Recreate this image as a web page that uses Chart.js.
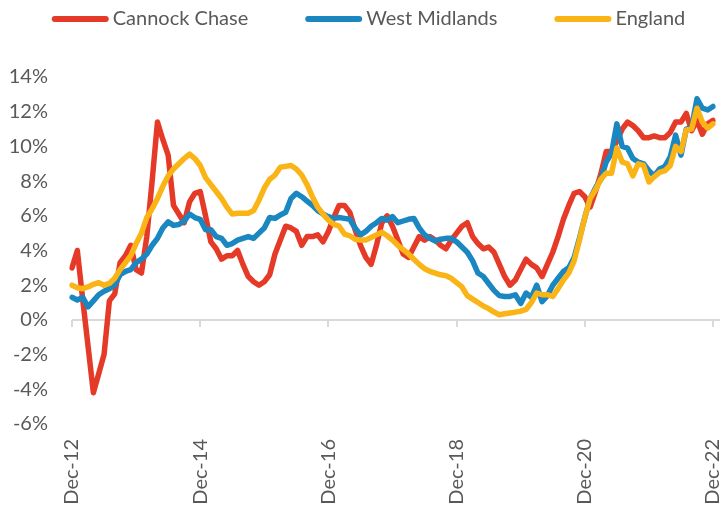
<!DOCTYPE html>
<html>
<head>
<meta charset="utf-8">
<script src="https://cdn.jsdelivr.net/npm/chart.js@4.4.1/dist/chart.umd.min.js"></script>
<style>
  html, body { margin: 0; padding: 0; background: #fff; }
  #wrap { position: relative; width: 721px; height: 508px; }
</style>
</head>
<body>
<div id="wrap"><canvas id="chart"></canvas></div>
<script>
// series, monthly annual % change, Dec-12 .. Dec-22
const seriesNames = ["Cannock Chase", "West Midlands", "England"];
const seriesColors = ["#e63a28", "#1b87c1", "#fbb416"];

const cannockChase = [3.0,4.0,1.2,-1.5,-4.2,-3.1,-2.0,1.1,1.5,3.3,
  3.7,4.3,2.9,2.7,4.8,8.0,11.4,10.4,9.5,6.6,
  6.1,5.6,6.8,7.3,7.4,6.0,4.5,4.1,3.5,3.7,
  3.7,4.0,3.2,2.5,2.2,2.0,2.2,2.6,3.8,4.6,
  5.4,5.3,5.1,4.3,4.8,4.8,4.9,4.5,5.1,5.9,
  6.6,6.6,6.2,5.2,4.3,3.6,3.2,4.3,5.6,6.0,
  5.4,4.6,3.8,3.6,4.2,4.8,4.6,4.8,4.6,4.3,
  4.1,4.6,5.0,5.4,5.6,4.8,4.4,4.1,4.2,3.9,
  3.2,2.5,2.0,2.3,2.9,3.5,3.2,3.0,2.5,3.2,
  3.9,4.8,5.8,6.6,7.3,7.4,7.1,6.5,7.4,8.4,
  9.7,9.7,10.3,11.0,11.4,11.2,10.9,10.5,10.5,10.6,
  10.5,10.5,10.8,11.4,11.4,11.9,10.9,11.5,10.7,11.3,
  11.5];

const westMidlands = [1.3,1.15,1.3,0.75,1.1,1.45,1.65,1.8,2.0,2.6,
  2.8,2.9,3.3,3.5,3.8,4.3,4.7,5.3,5.65,5.45,
  5.5,5.7,6.1,5.9,5.8,5.2,5.2,4.8,4.7,4.3,
  4.4,4.6,4.7,4.8,4.7,5.0,5.3,5.9,5.85,6.05,
  6.2,7.0,7.3,7.1,6.85,6.6,6.3,6.1,5.95,5.85,
  5.9,5.85,5.8,5.3,4.9,5.1,5.4,5.6,5.85,5.75,
  5.95,5.6,5.7,5.8,5.85,5.3,4.9,4.7,4.55,4.65,
  4.7,4.7,4.5,4.2,3.9,3.4,2.7,2.5,2.1,1.7,
  1.4,1.35,1.35,1.45,0.95,1.55,1.3,2.0,1.05,1.4,
  2.0,2.4,2.8,3.0,3.6,4.7,5.9,7.0,7.6,8.1,
  9.1,9.6,11.3,10.0,9.9,9.3,9.1,9.0,8.6,8.3,
  8.7,8.85,9.4,10.65,9.5,11.0,11.1,12.75,12.2,12.1,
  12.3];

const england = [2.0,1.85,1.8,1.9,2.05,2.15,2.0,2.1,2.4,2.9,
  3.3,3.7,4.4,5.0,5.9,6.4,7.0,7.7,8.3,8.7,
  9.0,9.3,9.55,9.3,8.9,8.2,7.8,7.4,7.0,6.5,
  6.1,6.15,6.15,6.15,6.3,6.9,7.6,8.1,8.35,8.8,
  8.85,8.9,8.7,8.35,7.8,7.1,6.5,6.1,5.75,5.5,
  5.4,4.95,4.85,4.65,4.6,4.6,4.75,4.9,5.05,4.85,
  4.6,4.3,4.05,3.8,3.5,3.2,2.95,2.8,2.7,2.6,
  2.55,2.4,2.15,1.9,1.4,1.2,1.0,0.8,0.65,0.45,
  0.3,0.35,0.4,0.45,0.5,0.6,1.0,1.55,1.45,1.45,
  1.35,1.8,2.3,2.7,3.4,4.6,5.9,7.0,7.5,8.1,
  8.45,8.45,9.9,9.1,9.0,8.3,9.0,8.9,7.95,8.25,
  8.5,8.6,8.9,10.0,9.7,10.95,11.0,12.2,11.4,11.05,
  11.3];

const monthNames = ["Jan","Feb","Mar","Apr","May","Jun","Jul","Aug","Sep","Oct","Nov","Dec"];
const tickLabels = ["Dec-12","Dec-14","Dec-16","Dec-18","Dec-20","Dec-22"];
const yTicks = [-6, -4, -2, 0, 2, 4, 6, 8, 10, 12, 14];

// month labels Dec-12 .. Dec-22
const labels = [];
for (let i = 0; i < cannockChase.length; i++) {
  const m = (11 + i) % 12;
  const yr = 12 + Math.floor((11 + i) / 12);
  labels.push(monthNames[m] + "-" + String(yr).padStart(2, "0"));
}

const textColor = "#595959";
const fontFamily = "Lato, 'Open Sans', sans-serif";

// axis line at 0% with small tick marks going down
const zeroAxis = {
  id: "zeroAxis",
  beforeDatasetsDraw(chart) {
    const { ctx, scales: { x, y } } = chart;
    const y0 = y.getPixelForValue(0);
    ctx.save();
    ctx.strokeStyle = "#d9d9d9";
    ctx.lineWidth = 2;
    ctx.beginPath();
    ctx.moveTo(x.left, y0);
    ctx.lineTo(chart.width - 1, y0);
    labels.forEach((lab, i) => {
      if (tickLabels.includes(lab)) {
        const px = Math.round(x.getPixelForValue(i));
        ctx.moveTo(px, y0);
        ctx.lineTo(px, y0 + 7);
      }
    });
    ctx.stroke();
    ctx.restore();
  },
};

// legend drawn as line samples + names
const lineLegend = {
  id: "lineLegend",
  afterDraw(chart) {
    const ctx = chart.ctx;
    const lineLen = 57, textGap = 4, itemGap = 57, yMid = 19;
    ctx.save();
    ctx.font = "20px " + fontFamily;
    const widths = seriesNames.map((n) => ctx.measureText(n).width);
    let total = 0;
    widths.forEach((w, i) => { total += lineLen + textGap + w + (i < widths.length - 1 ? itemGap : 0); });
    let cx = (chart.width - total) / 2 + 8;
    seriesNames.forEach((name, i) => {
      ctx.strokeStyle = seriesColors[i];
      ctx.lineWidth = 6;
      ctx.lineCap = "round";
      ctx.beginPath();
      ctx.moveTo(cx + 3, yMid);
      ctx.lineTo(cx + lineLen - 3, yMid);
      ctx.stroke();
      ctx.fillStyle = textColor;
      ctx.textBaseline = "middle";
      ctx.textAlign = "left";
      ctx.fillText(name, cx + lineLen + textGap, yMid);
      cx += lineLen + textGap + widths[i] + itemGap;
    });
    ctx.restore();
  },
};

function lineSet(label, data, color, order) {
  return {
    label: label,
    data: data,
    borderColor: color,
    backgroundColor: color,
    borderWidth: 5.5,
    borderJoinStyle: "round",
    borderCapStyle: "round",
    pointRadius: 0,
    tension: 0,
    fill: false,
    order: order,
  };
}

new Chart(document.getElementById("chart"), {
  type: "line",
  data: {
    labels: labels,
    datasets: [
      lineSet(seriesNames[0], cannockChase, seriesColors[0], 3),
      lineSet(seriesNames[1], westMidlands, seriesColors[1], 2),
      lineSet(seriesNames[2], england, seriesColors[2], 1),
    ],
  },
  options: {
    responsive: true,
    maintainAspectRatio: false,
    animation: false,
    layout: { padding: { top: 77, right: 8, bottom: 0, left: 0 } },
    plugins: {
      legend: { display: false },
      tooltip: { enabled: false },
    },
    scales: {
      x: {
        grid: { display: false, drawTicks: false },
        border: { display: false },
        ticks: {
          autoSkip: false,
          maxRotation: 90,
          minRotation: 90,
          padding: 15,
          color: textColor,
          font: { family: fontFamily, size: 20 },
          callback: function (value, index) {
            const lab = labels[index];
            return tickLabels.includes(lab) ? lab : null;
          },
        },
        afterFit: function (scale) {
          scale.height = 84;
          scale.paddingLeft = 0;
          scale.paddingRight = 0;
        },
      },
      y: {
        min: yTicks[0],
        max: yTicks[yTicks.length - 1],
        grid: { display: false, drawTicks: false },
        border: { display: false },
        ticks: {
          stepSize: 2,
          padding: 24,
          color: textColor,
          font: { family: fontFamily, size: 20 },
          callback: (v) => v + "%",
        },
        afterFit: function (scale) {
          scale.width = 72;
        },
      },
    },
  },
  plugins: [zeroAxis, lineLegend],
});
</script>
</body>
</html>
